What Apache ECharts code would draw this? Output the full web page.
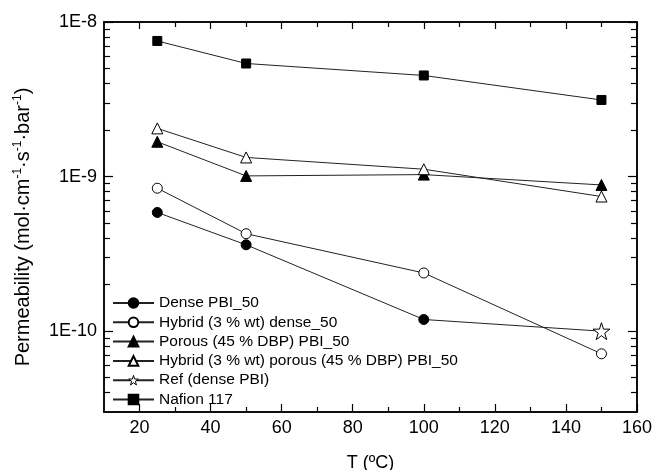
<!DOCTYPE html>
<html>
<head>
<meta charset="utf-8">
<script src="https://cdn.jsdelivr.net/npm/echarts@6/dist/echarts.min.js"></script>
<style>html,body{margin:0;padding:0;background:#fff}#c{width:656px;height:470px}</style>
</head>
<body>
<div id="c"></div>
<script>
const T = [25, 50, 100, 150];
const densePBI = [5.86e-10, 3.62e-10, 1.19e-10, 1.0e-10];
const hybridDense = [8.41e-10, 4.27e-10, 2.38e-10, 7.14e-11];
const porousPBI = [1.68e-9, 1.01e-9, 1.03e-9, 8.83e-10];
const hybridPorous = [2.05e-9, 1.33e-9, 1.116e-9, 7.43e-10];
const refT = [150];
const refDense = [1.0e-10];
const nafion = [7.54e-9, 5.39e-9, 4.51e-9, 3.13e-9];

const names = ['Dense PBI_50', 'Hybrid (3 % wt) dense_50', 'Porous (45 % DBP) PBI_50',
  'Hybrid (3 % wt) porous (45 % DBP) PBI_50', 'Ref (dense PBI)', 'Nafion 117'];

const xMajor = [20, 40, 60, 80, 100, 120, 140, 160];
const xMinor = [30, 50, 70, 90, 110, 130, 150];
const yMajor = [1e-10, 1e-9, 1e-8];
const yMinor = [4e-11, 5e-11, 6e-11, 7e-11, 8e-11, 9e-11,
  2e-10, 3e-10, 4e-10, 5e-10, 6e-10, 7e-10, 8e-10, 9e-10,
  2e-9, 3e-9, 4e-9, 5e-9, 6e-9, 7e-9, 8e-9, 9e-9];

const FONT = '"Liberation Sans", Arial, sans-serif';
const STAR = 'path://M50,0 L61.2,34.5 L97.6,34.5 L68.2,55.9 L79.4,90.5 L50,69.1 L20.6,90.5 L31.8,55.9 L2.4,34.5 L38.8,34.5 Z';

function pairs(xs, ys) { return xs.map((x, i) => [x, ys[i]]); }

const chart = echarts.init(document.getElementById('c'), null, {renderer: 'canvas'});

const axisLine = {show: true, onZero: false, lineStyle: {color: '#000', width: 1.5}};
function xAxisDef(pos, vals, len, labels) {
  return {
    type: 'value', position: pos, min: 10, max: 160,
    axisLine: axisLine, splitLine: {show: false},
    axisTick: {show: true, inside: true, length: len, customValues: vals, lineStyle: {color: '#000', width: 1.2}},
    axisLabel: labels ? {show: true, customValues: vals, margin: 7, fontSize: 18, fontFamily: FONT, color: '#000'} : {show: false}
  };
}
function yAxisDef(pos, vals, len, labels) {
  return {
    type: 'log', logBase: 10, position: pos, min: 3e-11, max: 1e-8,
    axisLine: axisLine, splitLine: {show: false}, minorTick: {show: false},
    axisTick: {show: true, inside: true, length: len, customValues: vals, lineStyle: {color: '#000', width: 1.2}},
    axisLabel: labels ? {show: true, customValues: vals, margin: 7, fontSize: 18, fontFamily: FONT, color: '#000',
      formatter: v => '1E' + Math.round(Math.log10(v))} : {show: false}
  };
}

const xAxes = [xAxisDef('bottom', xMajor, 8, true), xAxisDef('bottom', xMinor, 5, false),
  xAxisDef('top', xMajor, 7, false), xAxisDef('top', xMinor, 5, false)];
xAxes[0].name = 'T (ºC)';
xAxes[0].nameLocation = 'middle';
xAxes[0].nameGap = 42;
xAxes[0].nameTextStyle = {fontSize: 18, fontFamily: FONT, color: '#000'};

const yAxes = [yAxisDef('left', yMajor, 9, true), yAxisDef('left', yMinor, 6, false),
  yAxisDef('right', yMajor, 9, false), yAxisDef('right', yMinor, 6, false)];
yAxes[0].name = '{n|Permeability (mol·cm}{s|-1}{n|·s}{s|-1}{n|·bar}{s|-1}{n|)}';
yAxes[0].nameLocation = 'middle';
yAxes[0].nameGap = 70;
yAxes[0].nameTextStyle = {fontSize: 20, fontFamily: FONT, color: '#000', padding: [0, 20, 0, 0],
  rich: {n: {fontSize: 20, fontFamily: FONT, color: '#000'},
         s: {fontSize: 12, fontFamily: FONT, color: '#000', padding: [0, 0, 10, 0]}}};

const lineStyle = {color: '#222', width: 1};
const filled = {color: '#000', borderColor: '#000', borderWidth: 1};
const hollow = {color: '#fff', borderColor: '#000', borderWidth: 1};

function mk(name, data, symbol, size, style) {
  return {name, type: 'line', xAxisIndex: 0, yAxisIndex: 0, data, symbol, symbolSize: size,
    showAllSymbol: true, itemStyle: style, lineStyle, emphasis: {disabled: true}, z: 3, animation: false};
}

const denseData = pairs(T, densePBI).map((p, i) => i === T.length - 1 ? {value: p, symbol: 'none'} : p);

chart.setOption({
  animation: false,
  grid: {left: 104, right: 19, top: 22, bottom: 58, containLabel: false, outerBoundsMode: 'none'},
  xAxis: xAxes,
  yAxis: yAxes,
  legend: {
    orient: 'vertical', left: 112, top: 295, padding: 0, itemWidth: 41, itemHeight: 12, itemGap: 3.3,
    textStyle: {fontSize: 15.5, fontFamily: FONT, color: '#000'},
    data: names.map((n, i) => i === 4
      ? {name: n, itemStyle: {color: '#fff', borderColor: '#000', borderWidth: 1}}
      : n)
  },
  series: [
    mk(names[0], denseData, 'circle', 10, filled),
    mk(names[1], pairs(T, hybridDense), 'circle', 10, hollow),
    mk(names[2], pairs(T, porousPBI), 'triangle', 11, filled),
    mk(names[3], pairs(T, hybridPorous), 'triangle', 11, hollow),
    mk(names[4], pairs(refT, refDense), STAR, 17, hollow),
    mk(names[5], pairs(T, nafion), 'rect', 9, filled)
  ]
});
</script>
</body>
</html>
